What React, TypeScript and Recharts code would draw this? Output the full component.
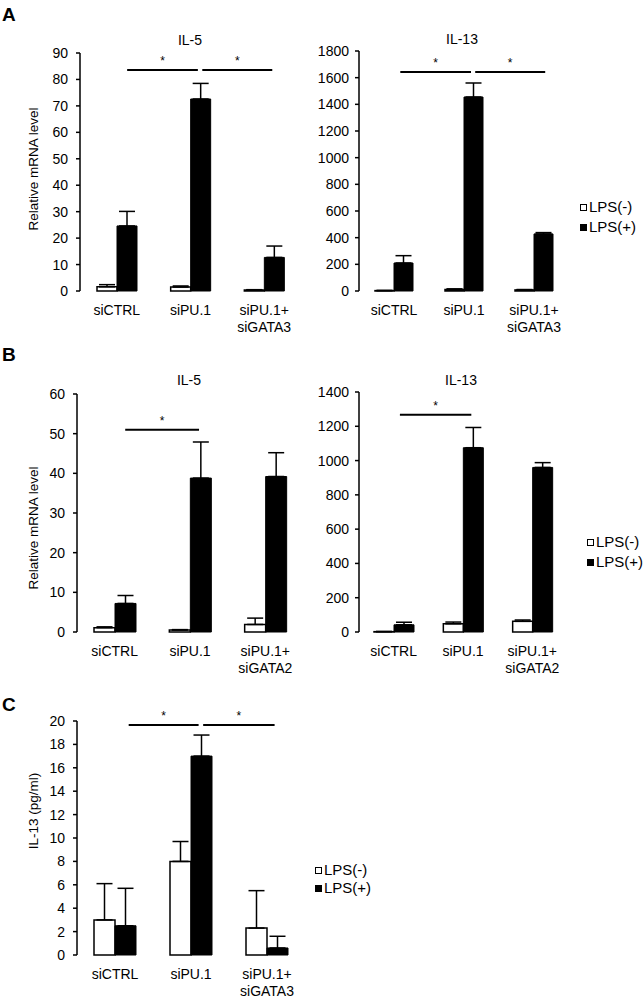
import { BarChart, Bar, XAxis, YAxis, ErrorBar, ReferenceLine, Legend } from "recharts";

const groupsGata3 = ["siCTRL", "siPU.1", "siPU.1+\nsiGATA3"];
const groupsGata2 = ["siCTRL", "siPU.1", "siPU.1+\nsiGATA2"];
const legendNames = ["LPS(-)", "LPS(+)"];
const legendFills = ["#fff", "#000"];

// A, IL-5 mRNA
const aIl5Neg = [1.6, 1.5, 0.4];
const aIl5NegErr = [0.8, 0.4, 0.1];
const aIl5Pos = [24.6, 72.6, 12.7];
const aIl5PosErr = [5.5, 5.9, 4.3];
const aIl5Ticks = [0, 10, 20, 30, 40, 50, 60, 70, 80, 90];

// A, IL-13 mRNA
const aIl13Neg = [3, 12, 8];
const aIl13NegErr = [1, 4, 3];
const aIl13Pos = [210, 1455, 428];
const aIl13PosErr = [55, 105, 10];
const aIl13Ticks = [0, 200, 400, 600, 800, 1000, 1200, 1400, 1600, 1800];

// B, IL-5 mRNA
const bIl5Neg = [1.1, 0.5, 1.9];
const bIl5NegErr = [0.2, 0.1, 1.6];
const bIl5Pos = [7.2, 38.8, 39.2];
const bIl5PosErr = [2.0, 9.1, 6.0];
const bIl5Ticks = [0, 10, 20, 30, 40, 50, 60];

// B, IL-13 mRNA
const bIl13Neg = [2, 48, 62];
const bIl13NegErr = [1, 10, 8];
const bIl13Pos = [42, 1075, 960];
const bIl13PosErr = [15, 118, 28];
const bIl13Ticks = [0, 200, 400, 600, 800, 1000, 1200, 1400];

// C, IL-13 protein
const cNeg = [3.0, 8.0, 2.3];
const cNegErr = [3.1, 1.7, 3.2];
const cPos = [2.5, 17.0, 0.6];
const cPosErr = [3.2, 1.8, 1.0];
const cTicks = [0, 2, 4, 6, 8, 10, 12, 14, 16, 18, 20];

// significance bars, x in group units (0..3 across the plot)
type Sig = { x1: number; x2: number; y: number };

const aIl5Sig: Sig[] = [{ x1: 0.64, x2: 1.6, y: 83.6 }, { x1: 1.66, x2: 2.61, y: 83.6 }];
const aIl13Sig: Sig[] = [{ x1: 0.59, x2: 1.6, y: 1642 }, { x1: 1.66, x2: 2.66, y: 1642 }];
const bIl5Sig: Sig[] = [{ x1: 0.64, x2: 1.62, y: 51 }];
const bIl13Sig: Sig[] = [{ x1: 0.59, x2: 1.62, y: 1268 }];
const cSig: Sig[] = [{ x1: 0.68, x2: 1.6, y: 19.66 }, { x1: 1.66, x2: 2.6, y: 19.66 }];

const buildRows = (groups: string[], neg: number[], negErr: number[], pos: number[], posErr: number[]) =>
  groups.map((g, i) => ({
    group: g,
    neg: neg[i],
    negErr: [0, negErr[i]],
    pos: pos[i],
    posErr: [0, posErr[i]],
  }));

function GroupTick({ x, y, payload }: any) {
  const lines = String(payload.value).split("\n");
  return (
    <text x={x} y={y} textAnchor="middle" fontSize={14} fill="#000">
      {lines.map((l, i) => (
        <tspan key={i} x={x} dy={i === 0 ? 24 : 17}>
          {l}
        </tspan>
      ))}
    </text>
  );
}

function LegendBox({ gap }: { gap: number }) {
  return (
    <div style={{ fontSize: 15, lineHeight: `${gap}px`, color: "#000" }}>
      {legendNames.map((n, i) => (
        <div key={n} style={{ display: "flex", alignItems: "center" }}>
          <span
            style={{
              display: "inline-block",
              width: 5,
              height: 5,
              border: "1.5px solid #000",
              background: legendFills[i],
              marginRight: 2,
            }}
          />
          {n}
        </div>
      ))}
    </div>
  );
}

interface PanelProps {
  left: number;
  top: number;
  width: number;
  height: number;
  margin: { top: number; right: number; left: number; bottom: number };
  yWidth: number;
  tickMargin: number;
  yMax: number;
  yTicks: number[];
  yLabel?: string;
  yLabelDx?: number;
  yLabelDy?: number;
  rows: ReturnType<typeof buildRows>;
  sigs: Sig[];
  barSize: number;
  legend?: { left: number; top: number; gap: number };
}

function Panel(p: PanelProps) {
  return (
    <div style={{ position: "absolute", left: p.left, top: p.top }}>
      <BarChart width={p.width} height={p.height} data={p.rows} margin={p.margin} barGap={0}>
        <XAxis
          xAxisId="num"
          type="number"
          dataKey="neg"
          domain={[0, 3]}
          ticks={[0, 1, 2, 3]}
          tickFormatter={() => ""}
          tickSize={5}
          height={0}
          allowDataOverflow
          axisLine={{ stroke: "#000", strokeWidth: 1.5 }}
          tickLine={{ stroke: "#000", strokeWidth: 1.5 }}
        />
        <XAxis
          dataKey="group"
          interval={0}
          tick={<GroupTick />}
          tickLine={false}
          axisLine={false}
          tickSize={0}
          tickMargin={0}
          height={40}
        />
        <YAxis
          type="number"
          domain={[0, p.yMax]}
          ticks={p.yTicks}
          interval={0}
          width={p.yWidth}
          tickSize={4}
          tickMargin={p.tickMargin}
          tick={{ fill: "#000", fontSize: 14 }}
          axisLine={{ stroke: "#000", strokeWidth: 1.5 }}
          tickLine={{ stroke: "#000", strokeWidth: 1.5 }}
          label={
            p.yLabel
              ? {
                  value: p.yLabel,
                  angle: -90,
                  position: "center",
                  dx: p.yLabelDx,
                  dy: p.yLabelDy,
                  fill: "#000",
                  fontSize: 13.5,
                }
              : undefined
          }
        />
        <Bar
          dataKey="neg"
          name={legendNames[0]}
          fill="#fff"
          stroke="#000"
          strokeWidth={1.5}
          barSize={p.barSize}
          isAnimationActive={false}
        >
          <ErrorBar dataKey="negErr" width={8} stroke="#000" strokeWidth={1.5} direction="y" isAnimationActive={false} />
        </Bar>
        <Bar
          dataKey="pos"
          name={legendNames[1]}
          fill="#000"
          stroke="#000"
          strokeWidth={1}
          barSize={p.barSize}
          isAnimationActive={false}
        >
          <ErrorBar dataKey="posErr" width={8} stroke="#000" strokeWidth={1.5} direction="y" isAnimationActive={false} />
        </Bar>
        {p.sigs.map((s, i) => (
          <ReferenceLine
            key={i}
            xAxisId="num"
            segment={[
              { x: s.x1, y: s.y },
              { x: s.x2, y: s.y },
            ]}
            stroke="#000"
            strokeWidth={2}
            ifOverflow="visible"
            label={{ value: "*", position: "top", offset: 5, fontSize: 12, fill: "#000" }}
          />
        ))}
        {p.legend && (
          <Legend
            layout="vertical"
            align="center"
            verticalAlign="middle"
            wrapperStyle={{ left: p.legend.left, top: p.legend.top, width: "auto", height: "auto" }}
            content={() => <LegendBox gap={p.legend!.gap} />}
          />
        )}
      </BarChart>
    </div>
  );
}

function Title({ text, cx, cy }: { text: string; cx: number; cy: number }) {
  return (
    <div
      style={{
        position: "absolute",
        left: cx - 50,
        top: cy - 7.6,
        width: 100,
        textAlign: "center",
        fontSize: 14,
        lineHeight: "16px",
      }}
    >
      {text}
    </div>
  );
}

function Letter({ text, top }: { text: string; top: number }) {
  return (
    <div style={{ position: "absolute", left: 2, top, fontSize: 19, lineHeight: "19px", fontWeight: "bold" }}>
      {text}
    </div>
  );
}

export default function App() {
  return (
    <div
      style={{
        position: "absolute",
        left: 0,
        top: 0,
        width: 643,
        height: 1000,
        background: "#fff",
        color: "#000",
        fontFamily: "'Liberation Sans', Arial, sans-serif",
      }}
    >
      <Letter text="A" top={5} />
      <Letter text="B" top={345} />
      <Letter text="C" top={695} />
      <Title text="IL-5" cx={190} cy={40} />
      <Title text="IL-13" cx={462} cy={39} />
      <Title text="IL-5" cx={189} cy={380} />
      <Title text="IL-13" cx={461} cy={380} />

      <Panel
        left={0}
        top={0}
        width={320}
        height={340}
        margin={{ top: 53, right: 19, left: 30, bottom: 9 }}
        yWidth={50}
        tickMargin={8}
        yMax={90}
        yTicks={aIl5Ticks}
        yLabel="Relative mRNA level"
        yLabelDx={-22}
        yLabelDy={-3}
        rows={buildRows(groupsGata3, aIl5Neg, aIl5NegErr, aIl5Pos, aIl5PosErr)}
        sigs={aIl5Sig}
        barSize={20}
      />
      <Panel
        left={300}
        top={0}
        width={343}
        height={340}
        margin={{ top: 51, right: 74, left: 9, bottom: 9 }}
        yWidth={50}
        tickMargin={6}
        yMax={1800}
        yTicks={aIl13Ticks}
        rows={buildRows(groupsGata3, aIl13Neg, aIl13NegErr, aIl13Pos, aIl13PosErr)}
        sigs={aIl13Sig}
        barSize={19}
        legend={{ left: 280, top: 197, gap: 20 }}
      />
      <Panel
        left={0}
        top={330}
        width={320}
        height={350}
        margin={{ top: 64, right: 17, left: 27, bottom: 8 }}
        yWidth={50}
        tickMargin={8}
        yMax={60}
        yTicks={bIl5Ticks}
        yLabel="Relative mRNA level"
        yLabelDx={-19}
        yLabelDy={15}
        rows={buildRows(groupsGata2, bIl5Neg, bIl5NegErr, bIl5Pos, bIl5PosErr)}
        sigs={bIl5Sig}
        barSize={21}
      />
      <Panel
        left={300}
        top={330}
        width={343}
        height={350}
        margin={{ top: 62, right: 76, left: 9, bottom: 8 }}
        yWidth={50}
        tickMargin={6}
        yMax={1400}
        yTicks={bIl13Ticks}
        rows={buildRows(groupsGata2, bIl13Neg, bIl13NegErr, bIl13Pos, bIl13PosErr)}
        sigs={bIl13Sig}
        barSize={20}
        legend={{ left: 287, top: 202, gap: 20 }}
      />
      <Panel
        left={0}
        top={660}
        width={420}
        height={340}
        margin={{ top: 61, right: 115, left: 27, bottom: 5 }}
        yWidth={50}
        tickMargin={8}
        yMax={20}
        yTicks={cTicks}
        yLabel="IL-13 (pg/ml)"
        yLabelDx={-19}
        yLabelDy={-27}
        rows={buildRows(groupsGata3, cNeg, cNegErr, cPos, cPosErr)}
        sigs={cSig}
        barSize={21}
        legend={{ left: 315, top: 201, gap: 18 }}
      />
    </div>
  );
}
